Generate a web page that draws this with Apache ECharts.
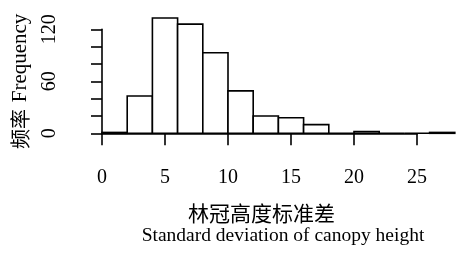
<!DOCTYPE html>
<html>
<head>
<meta charset="utf-8">
<script src="https://cdn.jsdelivr.net/npm/echarts@6/dist/echarts.min.js"></script>
<style>
  html, body { margin: 0; padding: 0; background: #fff; }
  #chart { width: 456px; height: 257px; }
</style>
</head>
<body>
<div id="chart"></div>
<script>
// histogram bins (width 2) and their counts
const binStarts = [0, 2, 4, 6, 8, 10, 12, 14, 16, 18, 20, 22, 24, 26];
const binWidth = 2;
const counts = [1, 43, 133, 126, 93, 49, 20, 18, 10, 0, 2, 0, 0, 1];

const xTicks = [0, 5, 10, 15, 20, 25];
const yLabelTicks = [0, 60, 120];

const xTitleCn = "林冠高度标准差";
const xTitleEn = "Standard deviation of canopy height";

const serif = "Liberation Serif";

const histData = binStarts.map((s, i) => [s, s + binWidth, counts[i]]);

const option = {
    animation: false,
    backgroundColor: "#fff",
    grid: { left: 102, right: 39, top: 29.3, bottom: 123.7 },
    xAxis: {
        type: "value",
        min: xTicks[0],
        max: xTicks[xTicks.length - 1],
        interval: 5,
        offset: 6,
        axisLine: { lineStyle: { color: "#000", width: 1.6 } },
        axisTick: { length: 12, lineStyle: { color: "#000", width: 1.6 } },
        axisLabel: { color: "#000", fontFamily: serif, fontSize: 20, margin: 28 },
        splitLine: { show: false }
    },
    yAxis: {
        type: "value",
        min: 0,
        max: 120,
        interval: 20,
        offset: 15,
        axisLine: { show: true, lineStyle: { color: "#000", width: 1.6 } },
        axisTick: { show: true, length: 11, lineStyle: { color: "#000", width: 1.6 } },
        axisLabel: {
            color: "#000", fontFamily: serif, fontSize: 20, rotate: 90, margin: 27,
            formatter: v => yLabelTicks.includes(v) ? String(v) : ""
        },
        splitLine: { show: false },
        name: "{cn|频率}  {en|Frequency}",
        nameLocation: "middle",
        nameRotate: 90,
        nameGap: 56,
        nameTextStyle: {
            color: "#000",
            rich: {
                cn: { fontFamily: "Noto Sans CJK SC", fontSize: 20, color: "#000" },
                en: { fontFamily: serif, fontSize: 21, color: "#000" }
            }
        }
    },
    graphic: [
        {
            type: "text", x: 261.5, y: 213,
            style: { text: xTitleCn, font: '21px "Noto Sans CJK SC"', fill: "#000", align: "center", verticalAlign: "middle" }
        },
        {
            type: "text", x: 283, y: 236,
            style: { text: xTitleEn, font: '19.5px "Liberation Serif"', fill: "#000", align: "center", verticalAlign: "middle" }
        }
    ],
    series: [{
        type: "custom",
        clip: false,
        data: histData,
        renderItem: function (params, api) {
            const p0 = api.coord([api.value(0), api.value(2)]);
            const p1 = api.coord([api.value(1), 0]);
            return {
                type: "rect",
                shape: { x: p0[0], y: p0[1], width: p1[0] - p0[0], height: p1[1] - p0[1] },
                style: { fill: "#fff", stroke: "#000", lineWidth: 1.6 }
            };
        }
    }]
};

const chart = echarts.init(document.getElementById("chart"));
chart.setOption(option);
</script>
</body>
</html>
